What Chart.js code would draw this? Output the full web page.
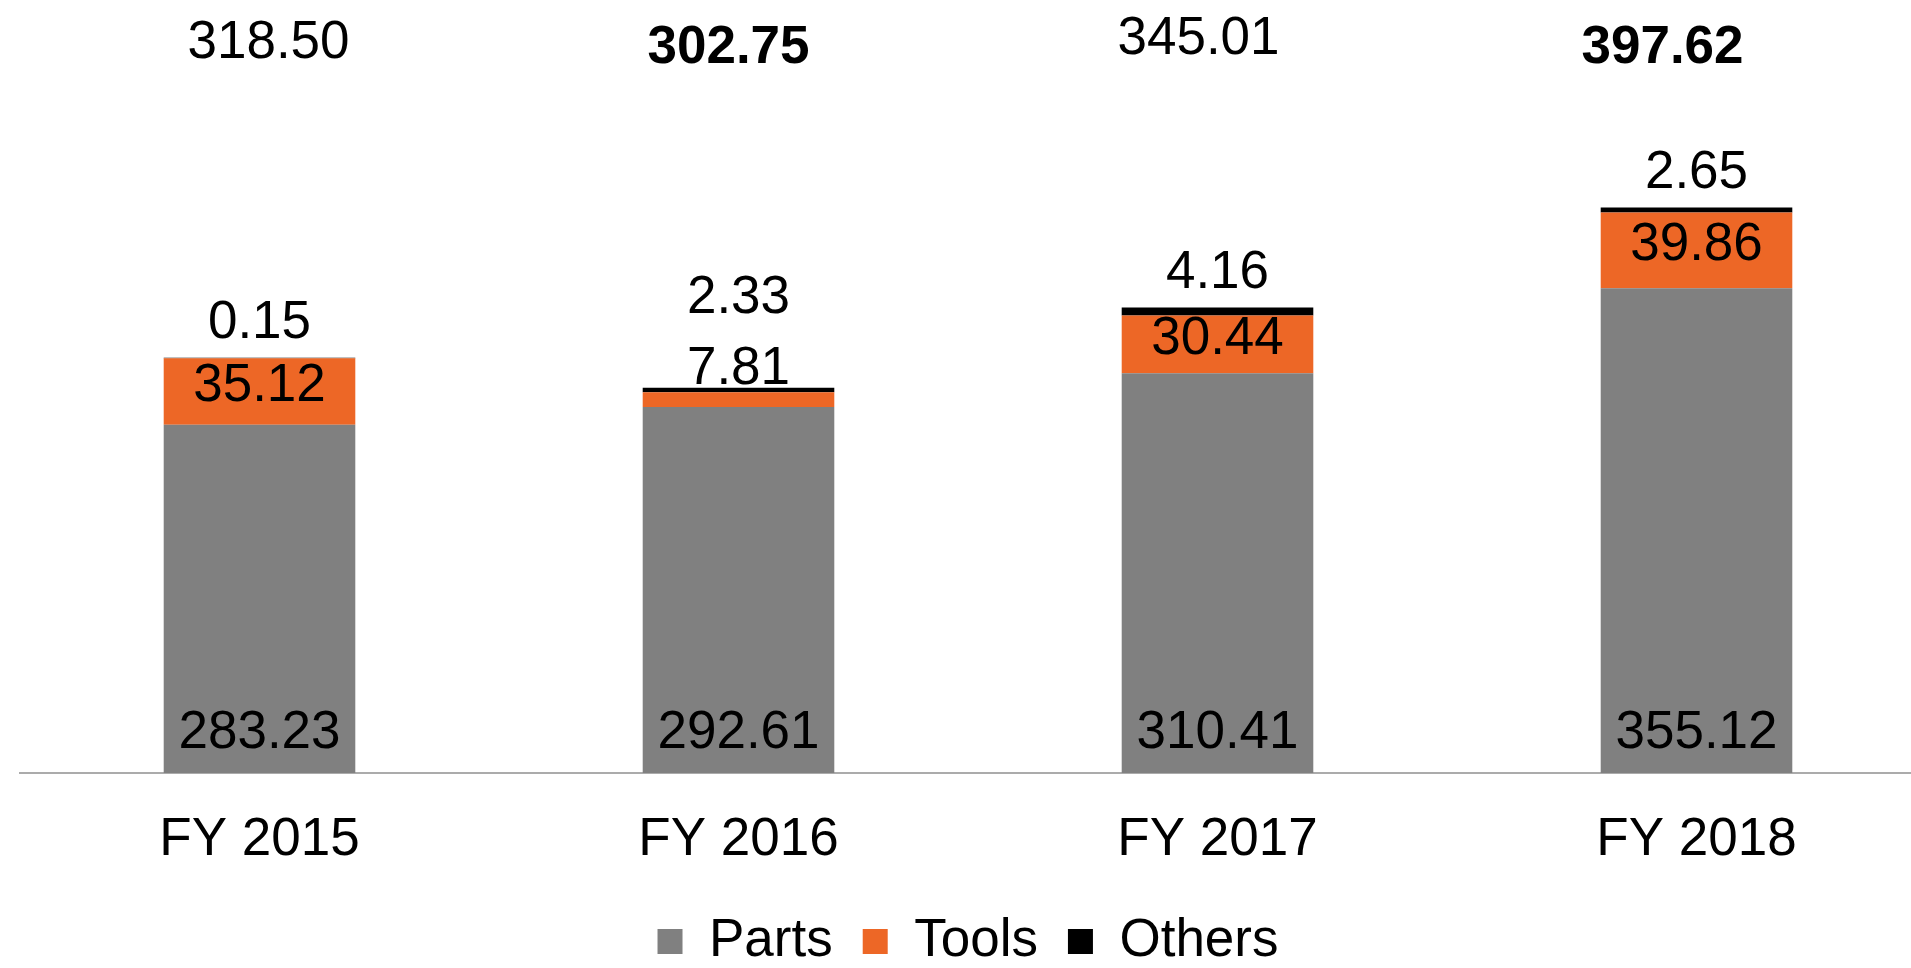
<!DOCTYPE html>
<html>
<head>
<meta charset="utf-8">
<title>Revenue by segment</title>
<script src="https://cdn.jsdelivr.net/npm/chart.js@4"></script>
<style>
    html, body { margin: 0; padding: 0; background: #fff; overflow: hidden; }
    /* the source chart runs a little past the right and bottom edge of the frame */
    #wrap { width: 1911px; height: 968px; overflow: hidden; }
</style>
</head>
<body>
<div id="wrap"><canvas id="segment-chart" width="1936" height="978"></canvas></div>
<script>
const years = ['FY 2015', 'FY 2016', 'FY 2017', 'FY 2018'];
const parts = [283.23, 292.61, 310.41, 355.12];
const tools = [35.12, 7.81, 30.44, 39.86];
const others = [0.15, 2.33, 4.16, 2.65];
const totals = [318.50, 302.75, 345.01, 397.62];

const FONT = '"Liberation Sans", Arial, sans-serif';

// the total boxes sit above the bars, a bit off centre, as in the source slide
const totalShiftX = [9, -10, -19, -34];
const totalY = [43, 48, 39, 48];
const totalBold = [false, true, false, true];

const valueLabels = {
    id: 'valueLabels',
    afterDatasetsDraw(chart) {
        const ctx = chart.ctx;
        const area = chart.chartArea;
        const partsMeta = chart.getDatasetMeta(0);
        const toolsMeta = chart.getDatasetMeta(1);
        const othersMeta = chart.getDatasetMeta(2);

        ctx.save();
        ctx.fillStyle = '#000';
        ctx.textAlign = 'center';
        ctx.textBaseline = 'middle';

        years.forEach(function(year, i) {
            const p = partsMeta.data[i];
            const t = toolsMeta.data[i];
            const o = othersMeta.data[i];
            ctx.font = '53px ' + FONT;

            ctx.fillText(parts[i].toFixed(2), p.x, area.bottom - 40);

            // small segments get their label above the bar
            let above = null;
            if (t.base - t.y > 45) {
                ctx.fillText(tools[i].toFixed(2), t.x, (t.y + t.base) / 2 - 5);
            } else {
                above = t.y - 23;
                ctx.fillText(tools[i].toFixed(2), t.x, above);
            }

            let oy = o.y - 34;
            if (above !== null) oy = Math.min(oy, above - 71);
            ctx.fillText(others[i].toFixed(2), o.x, oy);

            ctx.font = (totalBold[i] ? 'bold ' : '') + '53px ' + FONT;
            ctx.fillText(totals[i].toFixed(2), p.x + totalShiftX[i], totalY[i]);
        });
        ctx.restore();
    }
};

const ctx = document.getElementById('segment-chart').getContext('2d');

window.segmentChart = new Chart(ctx, {
    type: 'bar',
    data: {
        labels: years,
        datasets: [
            { label: 'Parts', data: parts, backgroundColor: '#808080' },
            { label: 'Tools', data: tools, backgroundColor: '#ED6726' },
            { label: 'Others', data: others, backgroundColor: '#000000' }
        ]
    },
    options: {
        responsive: false,
        animation: false,
        layout: {
            padding: { top: 13, right: 0, bottom: 0, left: 0 }
        },
        datasets: {
            bar: { categoryPercentage: 1, barPercentage: 0.4, borderWidth: 0 }
        },
        scales: {
            x: {
                stacked: true,
                grid: { display: false, drawTicks: false },
                border: { display: true, color: '#ABABAB', width: 2 },
                ticks: {
                    color: '#000',
                    padding: 22,
                    maxRotation: 0,
                    autoSkip: false,
                    font: { family: FONT, size: 53, lineHeight: 1.7 }
                },
                afterFit: function(scale) {
                    scale.height = 112;
                }
            },
            y: {
                stacked: true,
                min: 100,
                max: 500,
                grid: { display: false, drawTicks: false },
                border: { display: false },
                ticks: { display: false },
                afterFit: function(scale) {
                    scale.width = 20;
                }
            }
        },
        plugins: {
            legend: {
                position: 'bottom',
                labels: {
                    boxWidth: 25,
                    boxHeight: 25,
                    padding: 30,
                    color: '#000',
                    font: { family: FONT, size: 53 }
                }
            },
            tooltip: { enabled: false }
        }
    },
    plugins: [valueLabels]
});
</script>
</body>
</html>
